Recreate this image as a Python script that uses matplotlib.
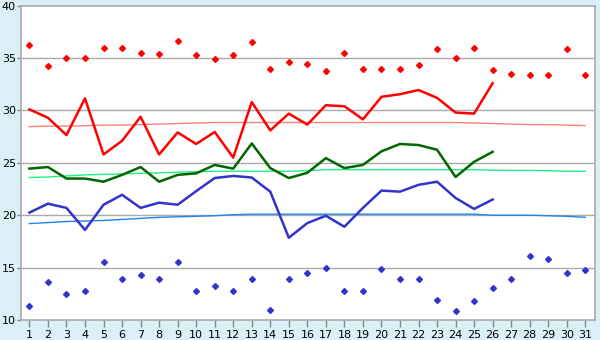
import matplotlib
matplotlib.use("Agg")
import matplotlib.pyplot as plt

days = list(range(1, 32))
line_days = list(range(1, 27))

max_points = [36.2, 34.2, 35.0, 35.0, 36.0, 36.0, 35.5, 35.35, 36.6, 35.25,
              34.9, 35.3, 36.5, 34.0, 34.6, 34.4, 33.8, 35.45, 34.0, 34.0,
              34.0, 34.3, 35.9, 35.0, 36.0, 33.9, 33.5, 33.4, 33.4, 35.9, 33.4]
min_points = [11.3, 13.6, 12.45, 12.8, 15.5, 13.9, 14.25, 13.9, 15.5, 12.8,
              13.2, 12.8, 13.9, 11.0, 13.9, 14.5, 15.0, 12.8, 12.8, 14.9,
              13.9, 13.9, 11.95, 10.9, 11.8, 13.1, 13.95, 16.15, 15.8, 14.45, 14.8]

max_line = [30.1, 29.3, 27.65, 31.15, 25.8, 27.1, 29.4, 25.8, 27.9, 26.8,
            27.95, 25.5, 30.8, 28.1, 29.7, 28.65, 30.5, 30.4, 29.15, 31.3,
            31.55, 31.95, 31.2, 29.8, 29.7, 32.6]
mean_line = [24.45, 24.6, 23.5, 23.5, 23.2, 23.85, 24.6, 23.2, 23.85, 24.0,
             24.8, 24.45, 26.85, 24.5, 23.55, 24.05, 25.45, 24.5, 24.8, 26.1,
             26.8, 26.7, 26.25, 23.65, 25.1, 26.05]
min_line = [20.25, 21.1, 20.7, 18.6, 21.0, 21.95, 20.7, 21.2, 21.0, 22.3,
            23.55, 23.75, 23.6, 22.25, 17.85, 19.25, 19.95, 18.9, 20.7, 22.35,
            22.25, 22.9, 23.2, 21.65, 20.6, 21.5]

normal_max = [28.45, 28.5, 28.5, 28.55, 28.6, 28.6, 28.65, 28.7, 28.75, 28.8,
              28.85, 28.85, 28.85, 28.85, 28.85, 28.85, 28.85, 28.85, 28.85, 28.85,
              28.85, 28.85, 28.85, 28.85, 28.8, 28.75, 28.7, 28.65, 28.65, 28.6, 28.55]
normal_mean = [23.6, 23.65, 23.75, 23.85, 23.9, 23.95, 24.0, 24.05, 24.1, 24.15,
               24.2, 24.2, 24.2, 24.2, 24.2, 24.25, 24.35, 24.35, 24.35, 24.35,
               24.35, 24.35, 24.35, 24.35, 24.35, 24.3, 24.28, 24.28, 24.25, 24.2, 24.2]
normal_min = [19.2, 19.3, 19.4, 19.45, 19.5, 19.6, 19.7, 19.8, 19.85, 19.9,
              19.95, 20.05, 20.1, 20.1, 20.1, 20.1, 20.1, 20.1, 20.1, 20.1,
              20.1, 20.1, 20.1, 20.1, 20.1, 20.0, 20.0, 20.0, 19.95, 19.9, 19.8]

y_ticks = [10, 15, 20, 25, 30, 35, 40]

bg = "#daeff6"
fig = plt.figure(figsize=(6, 3.4), dpi=100, facecolor=bg)
ax = fig.add_axes([0.0345, 0.0588, 0.957, 0.9245])
ax.set_facecolor("white")

for v in y_ticks[1:-1]:
    ax.axhline(v, color="#aaaaaa", lw=1, zorder=1)

ax.plot(days, normal_max, color="#ff7f7f", lw=1, zorder=2)
ax.plot(days, normal_mean, color="#22ee88", lw=1, zorder=2)
ax.plot(days, normal_min, color="#1f85ee", lw=1, zorder=2)

ax.plot(line_days, max_line, color="#ff0000", lw=1.8, zorder=3)
ax.plot(line_days, mean_line, color="#006600", lw=1.8, zorder=3)
ax.plot(line_days, min_line, color="#3333cc", lw=1.8, zorder=3)

ax.plot(days, max_points, linestyle="none", marker="D", ms=3, color="#ff0000", zorder=4)
ax.plot(days, min_points, linestyle="none", marker="D", ms=3, color="#3333cc", zorder=4)

ax.set_xlim(0.53, 31.52)
ax.set_ylim(10, 40)
ax.set_xticks(days)
ax.set_xticklabels([str(d) for d in days])
ax.set_yticks(y_ticks)
ax.set_yticklabels([str(v) for v in y_ticks])
ax.tick_params(axis="x", labelsize=8, color="#888888", length=5, width=1, pad=2)
ax.tick_params(axis="y", labelsize=8, color="#888888", length=3, width=1, pad=0.5)
for s in ax.spines.values():
    s.set_color("#aaaaaa")
    s.set_linewidth(1.2)

fig.savefig("out.png", dpi=100, facecolor=bg)
